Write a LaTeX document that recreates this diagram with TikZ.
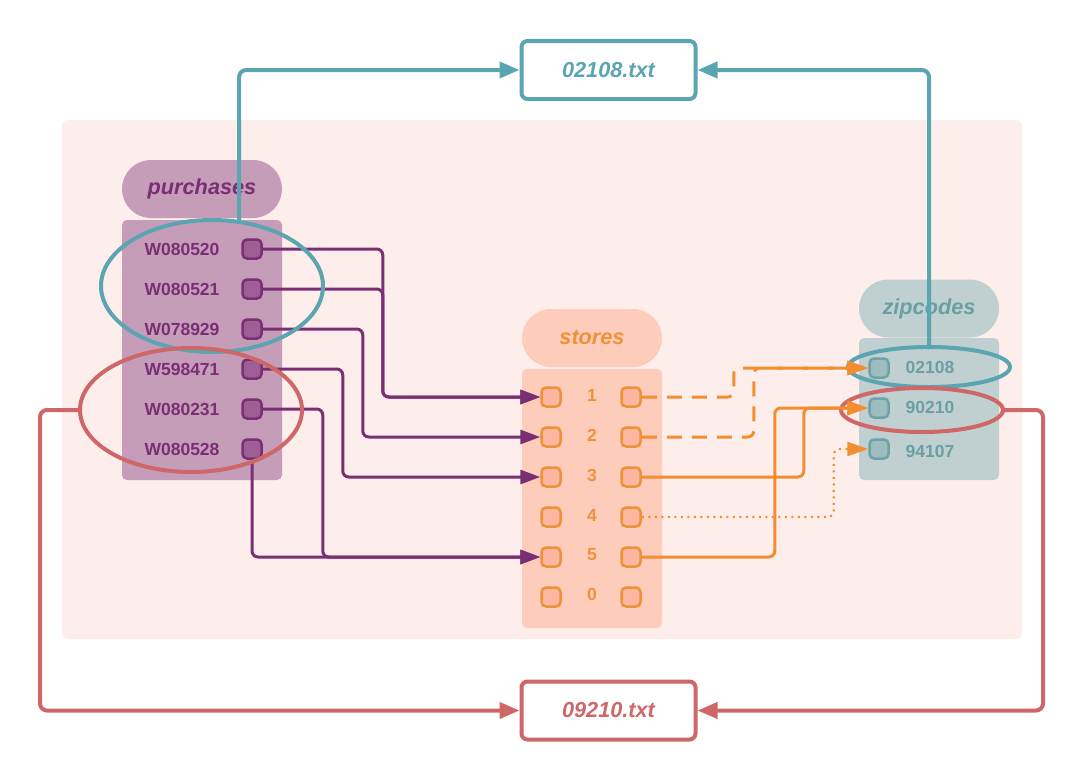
\documentclass[tikz,border=0pt]{standalone}
\usepackage{fontspec}
\setmainfont{Liberation Sans}
\usetikzlibrary{shapes.geometric,arrows.meta}

\definecolor{panelbg}{HTML}{FDEEEB}
\definecolor{purbody}{HTML}{C59DB9}
\definecolor{purtext}{HTML}{7A2E73}
\definecolor{purport}{HTML}{9E5F97}
\definecolor{stobody}{HTML}{FECCBA}
\definecolor{stotext}{HTML}{F0913A}
\definecolor{stoport}{HTML}{FDB7A1}
\definecolor{zipbody}{HTML}{C0D0D1}
\definecolor{ziptext}{HTML}{6A9FA6}
\definecolor{zipport}{HTML}{9DBDBE}
\definecolor{zipline}{HTML}{6CA2A8}
\definecolor{tealline}{HTML}{5AA5B1}
\definecolor{redline}{HTML}{CF6667}
\definecolor{orgline}{HTML}{F28E2F}

\newcommand{\smallfont}{\fontsize{17.5}{20}\selectfont\bfseries}
\newcommand{\bigfont}{\fontsize{21.7}{24}\selectfont\bfseries\itshape}

\newcommand{\pport}[3]{\node[portbox, draw=purtext, fill=purport] (#1) at ( #2 , #3 ) {};}
\newcommand{\sport}[3]{\node[portbox, draw=stotext, fill=stoport] (#1) at ( #2 , #3 ) {};}
\newcommand{\zport}[3]{\node[portbox, draw=zipline, fill=zipport, minimum size=19pt] (#1) at ( #2 , #3 ) {};}
\newcommand{\rowlabel}[5]{\node[text=#4, font=\smallfont] (#1) at ( #2 , #3 ) {#5};}

\tikzset{
  tablehead/.style={minimum height=58pt, rounded corners=29pt, inner sep=0pt, font=\bigfont},
  tablebody/.style={rounded corners=5pt, inner sep=0pt},
  portbox/.style={line width=2.5pt, rounded corners=4.5pt, minimum size=19pt, inner sep=0pt},
  ring/.style={ellipse, line width=4pt, inner sep=0pt, outer sep=0pt},
  filebox/.style={rectangle, fill=white, line width=4pt, rounded corners=6pt, minimum width=174pt, minimum height=58pt, font=\bigfont},
  purconn/.style={draw=purtext, line width=3pt, rounded corners=6pt, -{Triangle[length=20pt,width=14pt]}},
  orgconn/.style={draw=orgline, line width=3pt, rounded corners=6pt, -{Triangle[length=21pt,width=14pt]}},
  bigconn/.style={line width=4pt, rounded corners=7pt, -{Triangle[length=20pt,width=16pt]}}
}

\begin{document}
\begin{tikzpicture}[x=1pt, y=-1pt]
  \useasboundingbox (0,0) rectangle (1084,780);

  % panel
  \fill[panelbg, rounded corners=6pt] (62,120) rectangle (1022,639);

  % tables
  \node[tablehead, fill=purbody, text=purtext, minimum width=160pt] (purhead) at (202,189) {purchases};
  \node[tablebody, fill=purbody, minimum width=160pt, minimum height=260pt] (purtab) at (202,350) {};
  \node[tablehead, fill=stobody, text=stotext, minimum width=140pt] (stohead) at (592,338) {stores};
  \node[tablebody, fill=stobody, minimum width=140pt, minimum height=259pt] (stotab) at (592,498.5) {};
  \node[tablehead, fill=zipbody, text=ziptext, minimum width=140pt] (ziphead) at (929,308.5) {zipcodes};
  \node[tablebody, fill=zipbody, minimum width=140pt, minimum height=142pt] (ziptab) at (929,409) {};

  % purchases rows
  \rowlabel{w1}{182}{249}{purtext}{W080520}
  \rowlabel{w2}{182}{289}{purtext}{W080521}
  \rowlabel{w3}{182}{329}{purtext}{W078929}
  \rowlabel{w4}{182}{369}{purtext}{W598471}
  \rowlabel{w5}{182}{409}{purtext}{W080231}
  \rowlabel{w6}{182}{449}{purtext}{W080528}

  % stores rows
  \rowlabel{n1}{592}{395}{stotext}{1}
  \rowlabel{n2}{592}{435}{stotext}{2}
  \rowlabel{n3}{592}{475}{stotext}{3}
  \rowlabel{n4}{592}{515}{stotext}{4}
  \rowlabel{n5}{592}{555}{stotext}{5}
  \rowlabel{n0}{592}{594}{stotext}{0}

  % zipcodes rows
  \rowlabel{c1}{930}{367}{ziptext}{02108}
  \rowlabel{c2}{930}{407}{ziptext}{90210}
  \rowlabel{c3}{930}{451}{ziptext}{94107}

  % ports
  \pport{p1}{252}{249}
  \pport{p2}{252}{289}
  \pport{p3}{252}{329}
  \pport{p4}{252}{369}
  \pport{p5}{252}{409}
  \pport{p6}{252}{449}

  \sport{sl1}{551}{397}
  \sport{sl2}{551}{437}
  \sport{sl3}{551}{477}
  \sport{sl4}{551}{517}
  \sport{sl5}{551}{557}
  \sport{sl0}{551}{597}

  \sport{sr1}{631}{397}
  \sport{sr2}{631}{437}
  \sport{sr3}{631}{477}
  \sport{sr4}{631}{517}
  \sport{sr5}{631}{557}
  \sport{sr0}{631}{597}

  \zport{z1}{879}{368}
  \zport{z2}{879}{408}
  \zport{z3}{879}{449}

  % purchases -> stores
  \draw[purconn] (p1.east) -- ++(120,0) |- (sl1.west);
  \draw[purconn] (p2.east) -- ++(120,0) |- (sl1.west);
  \draw[purconn] (p3.east) -- ++(100,0) |- (sl2.west);
  \draw[purconn] (p4.east) -- ++(80,0) |- (sl3.west);
  \draw[purconn] (p5.east) -- ++(60,0) |- (sl5.west);
  \draw[purconn] (p6.south) |- (sl5.west);

  % groups
  \node[ring, draw=tealline, minimum width=222pt, minimum height=132pt] (pblue) at (212,286) {};
  \node[ring, draw=redline, minimum width=222pt, minimum height=124pt] (pred) at (191,410) {};
  \node[ring, draw=tealline, minimum width=162pt, minimum height=40pt] (zblue) at (929,367) {};
  \node[ring, draw=redline, minimum width=162pt, minimum height=44pt] (zred) at (922,410) {};

  % stores -> zipcodes
  \draw[orgconn, dash pattern=on 15pt off 10pt] (sr1.east) -- ++(92,0) |- (z1.west);
  \draw[orgconn, dash pattern=on 15pt off 10pt] (sr2.east) -- ++(112,0) |- (z1.west);
  \draw[orgconn] (sr3.east) -- ++(162,0) |- (z2.west);
  \draw[orgconn] (sr5.east) -- ++(133,0) |- (z2.west);
  \draw[orgconn, line width=2.2pt, dash pattern=on 2pt off 4.5pt] (sr4.east) -- ++(192,0) |- (z3.west);

  % files
  \node[filebox, draw=tealline, text=tealline] (fblue) at (608.5,70) {02108.txt};
  \node[filebox, draw=redline, text=redline] (fred) at (608.5,710.5) {09210.txt};

  \draw[bigconn, draw=tealline] (pblue.67) |- (fblue.west);
  \draw[bigconn, draw=tealline] (zblue.north) |- (fblue.east);
  \draw[bigconn, draw=redline] (pred.west) -- ++(-40,0) |- (fred.west);
  \draw[bigconn, draw=redline] (zred.east) -- ++(40,0) |- (fred.east);
\end{tikzpicture}
\end{document}
